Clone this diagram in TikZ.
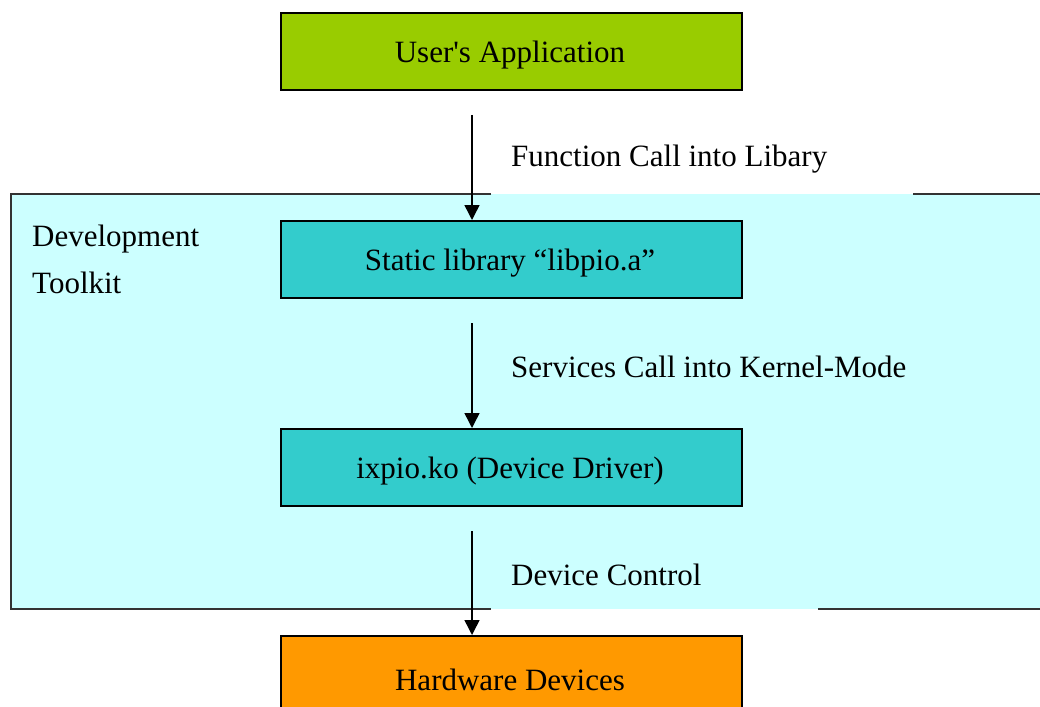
\documentclass[tikz,border=0pt]{standalone}
\usepackage{fontspec}
\setmainfont{Liberation Serif}
\usetikzlibrary{arrows.meta}
\definecolor{appgreen}{HTML}{99CC00}
\definecolor{libcyan}{HTML}{33CCCC}
\definecolor{kitcyan}{HTML}{CCFFFF}
\definecolor{hworange}{HTML}{FF9900}
\begin{document}
\begin{tikzpicture}[x=1pt,y=-1pt,
  box/.style={draw=black,line width=2pt,minimum width=461pt,minimum height=77pt,inner sep=0pt,anchor=north west},
  txt/.style={font=\fontsize{31}{37}\selectfont},
  lbl/.style={anchor=west,inner sep=0pt,font=\fontsize{31}{37}\selectfont},
  flow/.style={line width=1.5pt,-{Triangle[width=15pt,length=15pt]}},
  border/.style={draw=black!80,line width=1.6pt}]
\clip (0,0) rectangle (1040,706);
% development toolkit area
\fill[kitcyan] (11,194) rectangle (1045,609);
\draw[border] (491,194) -- (11,194) -- (11,609) -- (491,609);
\draw[border] (913,194) -- (1045,194);
\draw[border] (818,609) -- (1045,609);
\node[anchor=north west,inner sep=0pt,align=left,font=\fontsize{31}{47}\selectfont] (kit) at (32,225) {Development\\Toolkit};
% boxes
\node[box,fill=appgreen] (app) at (280,12) {};
\node[box,fill=libcyan] (lib) at (280,220) {};
\node[box,fill=libcyan] (drv) at (280,428) {};
\node[box,fill=hworange,minimum height=120pt] (hw) at (280,635) {};
\node[txt] (appt) at (510,55) {User\textquotesingle s Application};
\node[txt] (libt) at (510,263) {Static library “libpio.a”};
\node[txt] (drvt) at (510,471) {ixpio.ko (Device Driver)};
\node[txt] (hwt) at (510,680) {Hardware Devices};
% connectors
\coordinate (a1) at (472,115);
\coordinate (a2) at (472,323);
\coordinate (a3) at (472,531);
\draw[flow] (a1) -- (a1 |- lib.north);
\draw[flow] (a2) -- (a2 |- drv.north);
\draw[flow] (a3) -- (a3 |- hw.north);
% labels
\node[lbl] (l1) at (511,159) {Function Call into Libary};
\node[lbl] (l2) at (511,367) {Services Call into Kernel-Mode};
\node[lbl] (l3) at (511,575) {Device Control};
\end{tikzpicture}
\end{document}
